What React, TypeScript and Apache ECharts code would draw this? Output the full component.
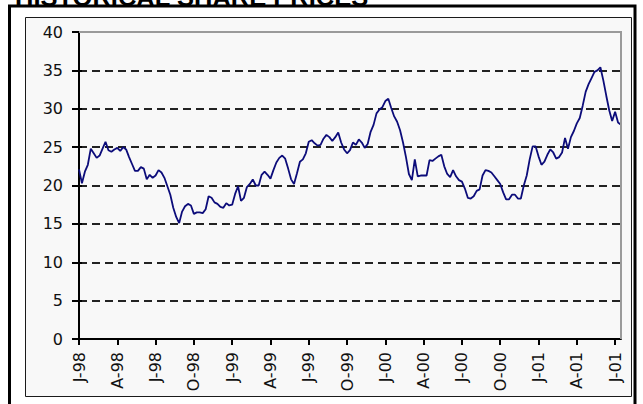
import React, { useEffect, useRef } from "react";
import * as echarts from "echarts";

const title = "HISTORICAL SHARE PRICES";

const tickLabels = [
  "J-98", "A-98", "J-98", "O-98",
  "J-99", "A-99", "J-99", "O-99",
  "J-00", "A-00", "J-00", "O-00",
  "J-01", "A-01", "J-01",
];

// weekly closing prices, Jan 1998 - Aug 2001
const prices = [
  22.1, 20.3, 21.8, 22.7, 24.8, 24.2, 23.6, 23.9, 24.8, 25.7,
  24.6, 24.4, 24.7, 24.9, 24.5, 25.0, 24.7, 23.7, 22.8, 21.9,
  21.9, 22.4, 22.2, 20.8, 21.4, 21.0, 21.3, 22.0, 21.7, 21.0,
  19.9, 18.8, 17.1, 15.9, 15.1, 16.6, 17.3, 17.6, 17.4, 16.3,
  16.5, 16.5, 16.4, 16.9, 18.6, 18.4, 17.8, 17.6, 17.2, 17.1,
  17.7, 17.4, 17.5, 18.9, 19.9, 18.0, 18.4, 19.8, 20.2, 20.8,
  20.0, 20.0, 21.4, 21.8, 21.4, 20.9, 22.0, 23.0, 23.6, 23.9,
  23.5, 22.2, 20.8, 20.2, 21.6, 23.1, 23.4, 24.2, 25.7, 25.9,
  25.5, 25.2, 25.3, 26.1, 26.6, 26.3, 25.8, 26.3, 26.9, 25.6,
  24.7, 24.2, 24.6, 25.6, 25.3, 26.0, 25.6, 24.9, 25.4, 27.0,
  27.9, 29.4, 29.9, 30.2, 31.0, 31.3, 30.1, 29.0, 28.3, 27.2,
  25.6, 23.7, 21.5, 20.7, 23.4, 21.2, 21.3, 21.3, 21.3, 23.3,
  23.2, 23.5, 23.8, 24.0, 22.5, 21.5, 21.1, 22.0, 21.2, 20.7,
  20.5, 19.6, 18.4, 18.3, 18.6, 19.3, 19.5, 21.3, 22.0, 21.9,
  21.7, 21.2, 20.7, 20.2, 19.1, 18.2, 18.2, 18.8, 18.8, 18.3,
  18.3, 20.0, 21.3, 23.4, 25.1, 25.1, 23.8, 22.7, 23.1, 24.0,
  24.7, 24.3, 23.5, 23.7, 24.3, 26.2, 24.8, 26.3, 27.1, 28.1,
  28.8, 30.4, 32.2, 33.2, 34.0, 34.8, 35.0, 35.4, 33.7, 31.7,
  29.8, 28.4, 29.6, 28.2, 27.9,
];

const weeksPerTick = 13;
const yMin = 0;
const yMax = 40;
const yStep = 5;

const categories = prices.map((_, i) =>
  i % weeksPerTick === 0 ? tickLabels[i / weeksPerTick] : ""
);

const W = 643;
const H = 404;

export default function App() {
  const ref = useRef<HTMLDivElement>(null);

  useEffect(() => {
    if (!ref.current) return;
    const chart = echarts.init(ref.current, null, { renderer: "svg" });
    const font = "DejaVu Sans";
    chart.setOption({
      animation: false,
      backgroundColor: "#ffffff",
      grid: { left: 79, right: 22, top: 32, bottom: 65, containLabel: false },
      graphic: [
        {
          type: "rect",
          z: -10,
          shape: { x: 25.5, y: 17.5, width: 606, height: 379 },
          style: { fill: "#f8f8f8", stroke: "#1a1a1a", lineWidth: 1 },
          silent: true,
        },
        {
          type: "rect",
          z: 100,
          shape: { x: 9.5, y: 6, width: 625.5, height: 420 },
          style: { fill: "none", stroke: "#000000", lineWidth: 3 },
          silent: true,
        },
        {
          type: "polyline",
          z: 100,
          shape: { points: [[79, 32], [621, 32], [621, 339]] },
          style: { fill: "none", stroke: "#9a9a9a", lineWidth: 2 },
          silent: true,
        },
        {
          type: "text",
          z: 101,
          x: 15,
          y: -3.5,
          style: {
            text: title,
            fill: "#000000",
            font: "bold 25.5px 'Liberation Sans', Arial, sans-serif",
            verticalAlign: "middle",
            align: "left",
          },
          silent: true,
        },
      ],
      xAxis: {
        type: "category",
        data: categories,
        boundaryGap: false,
        axisLine: { show: true, lineStyle: { color: "#000", width: 2 } },
        axisTick: {
          show: true,
          interval: weeksPerTick - 1,
          length: 6,
          lineStyle: { color: "#000", width: 2 },
        },
        axisLabel: {
          interval: weeksPerTick - 1,
          rotate: 90,
          margin: 13,
          fontFamily: font,
          fontSize: 16,
          color: "#111",
        },
        splitLine: { show: false },
      },
      yAxis: [
        {
          type: "value",
          min: yMin,
          max: yMax,
          interval: yStep,
          axisLine: { show: true, lineStyle: { color: "#000", width: 2 } },
          axisTick: { show: true, length: 7, lineStyle: { color: "#000", width: 2 } },
          axisLabel: {
            margin: 16,
            fontFamily: font,
            fontSize: 16,
            color: "#111",
          },
          splitLine: {
            show: true,
            lineStyle: { color: "#222", width: 2, type: [8, 5] },
          },
        },
        {
          type: "value",
          position: "left",
          min: yMin,
          max: yMax,
          interval: yStep,
          axisLine: { show: false },
          axisTick: { show: true, inside: true, length: 3, lineStyle: { color: "#000", width: 2 } },
          axisLabel: { show: false },
          splitLine: { show: false },
        },
      ],
      series: [
        {
          type: "line",
          data: prices,
          yAxisIndex: 0,
          showSymbol: false,
          symbol: "none",
          z: 5,
          lineStyle: { color: "#0c0c7a", width: 1.8 },
        },
      ],
    });
    return () => chart.dispose();
  }, []);

  return (
    <div
      ref={ref}
      style={{ position: "absolute", left: 0, top: 0, width: W, height: H }}
    />
  );
}
